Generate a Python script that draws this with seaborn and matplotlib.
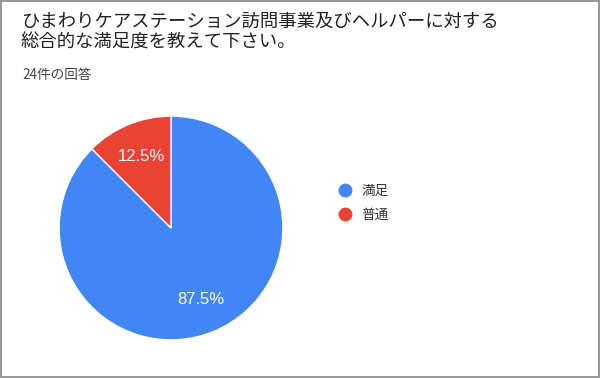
import matplotlib
matplotlib.use('Agg')
import matplotlib.pyplot as plt
import seaborn as sns
from matplotlib.lines import Line2D

title_lines = ['ひまわりケアステーション訪問事業及びヘルパーに対する', '総合的な満足度を教えて下さい。']
subtitle = '24件の回答'
labels = ['満足', '普通']
counts = [21, 3]
colors = ['#4285F4', '#EA4335']

sns.set_theme(style='white')
plt.rcParams['font.family'] = ['Noto Sans CJK JP', 'DejaVu Sans']

fig = plt.figure(figsize=(6, 3.78), dpi=100, facecolor='white',
                 edgecolor='#9a9a9a', linewidth=1.5)

fig.text(21 / 600, 1 - 22 / 378, title_lines[0], fontsize=13.2, color='#222222', va='center', ha='left')
fig.text(21 / 600, 1 - 43 / 378, title_lines[1], fontsize=13.2, color='#222222', va='center', ha='left')
fig.text(22 / 600, 1 - 75 / 378, subtitle, fontsize=9.8, color='#444444', va='center', ha='left')

ax = fig.add_axes([58 / 600, 37 / 378, 226 / 600, 226 / 378])
wedges, texts, autotexts = ax.pie(
    counts, colors=colors, startangle=90, counterclock=False,
    autopct='%1.1f%%', pctdistance=0.69,
    wedgeprops=dict(edgecolor='white', linewidth=1),
    textprops=dict(color='white', fontsize=12, family=['Liberation Sans', 'DejaVu Sans']))
ax.set_xlim(-1.01, 1.01)
ax.set_ylim(-1.01, 1.01)
ax.set_aspect('equal')
ax.axis('off')

handles = [Line2D([0], [0], marker='o', linestyle='', markersize=9,
                  markerfacecolor=c, markeredgecolor=c) for c in colors]
fig.legend(handles, labels, loc='upper left', bbox_to_anchor=(325 / 600, 1 - 172 / 378),
           frameon=False, fontsize=9.8, labelcolor='#333333', handletextpad=0.6,
           labelspacing=0.7, handlelength=1.2)

fig.savefig('out.png', dpi=100)
